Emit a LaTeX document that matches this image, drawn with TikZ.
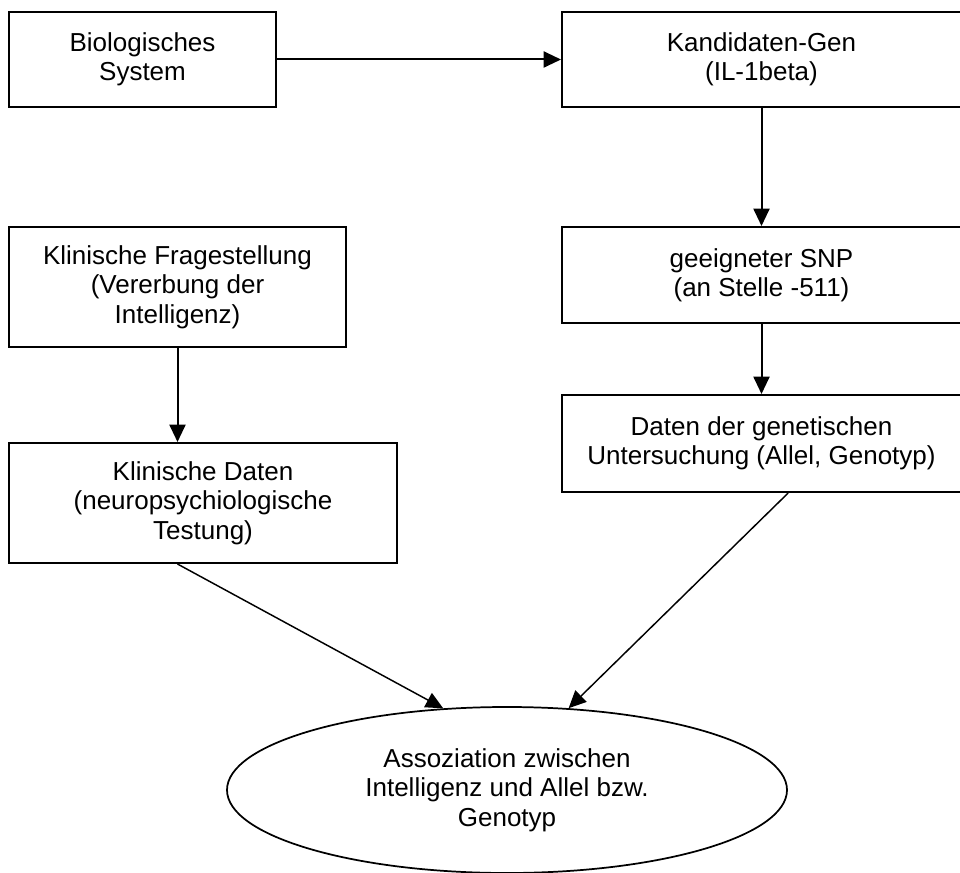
\documentclass[tikz,border=0pt]{standalone}
\usepackage{fontspec}
\setmainfont{Liberation Sans}
\usetikzlibrary{arrows.meta,shapes.geometric}

\tikzset{
  kasten/.style={draw, line width=1.5pt, align=center, inner sep=2pt,
    font=\fontsize{19.5}{22}\selectfont},
  pfeil/.style={line width=1.5pt, -{Triangle[length=13pt,width=12pt]}}
}

\begin{document}
\begin{tikzpicture}[x=0.75pt, y=-0.75pt]

		\useasboundingbox (0,0) rectangle (960,873);

		\node[kasten, minimum width=200.25pt, minimum height=71.25pt] (bio) at (142.5, 59.5) {Biologisches\\System};
		\node[kasten, minimum width=299.25pt, minimum height=71.25pt] (kand) at (761.5, 59.5) {Kandidaten-Gen\\(IL-1beta)};
		\node[kasten, minimum width=299.25pt, minimum height=72pt] (snp) at (761.5, 275) {geeigneter SNP\\(an Stelle -511)};
		\node[kasten, minimum width=299.25pt, minimum height=72.75pt] (daten) at (761.5, 443.5) {Daten der genetischen\\Untersuchung (Allel, Genotyp)};
		\node[kasten, minimum width=252.75pt, minimum height=90pt] (frage) at (177.5, 287) {Klinische Fragestellung\\(Vererbung der\\Intelligenz)};
		\node[kasten, minimum width=291pt, minimum height=90pt] (klin) at (203, 503) {Klinische Daten\\(neuropsychiologische\\Testung)};
		\node[kasten, ellipse, line width=1.3pt, minimum width=420pt, minimum height=124.5pt] (assoz) at (507, 790) {Assoziation zwischen\\Intelligenz und Allel bzw.\\Genotyp};

		\foreach \a / \b in {bio/kand, kand/snp, snp/daten} {
		\draw[pfeil] (\a) -- (\b);
		}
		\draw[pfeil] (frage) -- (frage.south |- klin.north);

		\draw[pfeil, line width=1.1pt] (klin.south -| frage.south) -- (assoz.128);
		\draw[pfeil, line width=1.1pt] ([xshift=20pt]daten.south) -- (assoz.53);

	\end{tikzpicture}
\end{document}
